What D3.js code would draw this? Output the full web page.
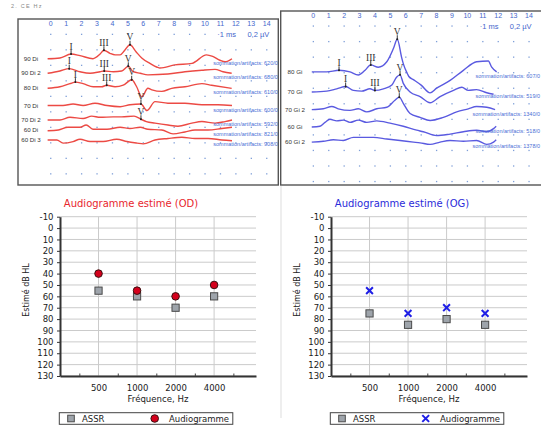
<!DOCTYPE html>
<html>
<head>
<meta charset="utf-8">
<script src="https://cdn.jsdelivr.net/npm/d3@7"></script>
<style>
  body { margin: 0; background: #fff; }
  svg { display: block; }
</style>
</head>
<body>
<script>
const width = 541;
const height = 428;

// ---- ABR panels: time ticks (ms) ----
const abrTicks = [0, 1, 2, 3, 4, 5, 6, 7, 8, 9, 10, 11, 12, 13, 14];

// left ear (red), amplitudes in µV, x in ms
const leftLabels = ["90 Di", "90 Di 2", "80 Di", "70 Di", "70 Di 2", "60 Di", "60 Di 3"];
const leftOffsets = [0.315, 0.503, 0.697, 0.919, 1.106, 1.235, 1.364];
const leftCounts = ["620/0", "680/0", "610/0", "600/0", "592/0", "821/0", "908/0"];
const leftWaves = [
  [[-0.2,0],[0.6,0.01],[1.32,0.06],[1.9,0.04],[2.74,0],[3.2,0.06],[3.45,0.11],[3.84,0.07],[4.17,0.05],[4.5,0.05],[4.8,0.11],[5.14,0.18],[5.53,0.09],[5.9,0.01],[6.43,-0.06],[6.9,-0.11],[7.08,-0.12],[8.05,-0.08],[9.16,-0.06],[10.1,0.05],[10.5,0.03],[10.97,-0.02],[11.3,-0.04],[11.75,0]],
  [[-0.2,0],[0.6,0.03],[1.2,0.06],[1.9,0.02],[2.55,0],[3.2,0.02],[3.47,0.03],[4.06,0.02],[4.6,0.03],[5.03,0.09],[5.35,0.02],[5.8,0],[6.3,-0.02],[7.6,-0.01],[8.7,0.02],[9.8,0.04],[10.65,0.05],[11.17,0.02],[11.73,0]],
  [[-0.2,0],[0.6,0.02],[1.25,0.06],[1.6,0.08],[2.1,0.06],[2.76,0.02],[3.3,0.02],[3.63,0.04],[4.17,0.02],[4.7,0.04],[5.25,0.11],[5.57,0.02],[5.9,-0.11],[6.3,0],[6.56,-0.02],[7.2,-0.04],[7.84,0],[8.7,0.02],[9.8,0.06],[10.43,0.04],[11.73,0]],
  [[-0.2,0],[0.8,0],[1.45,0.02],[2.1,0],[2.87,0.03],[3.65,0],[4.5,-0.015],[5.14,0.01],[5.85,0.02],[6.24,-0.065],[6.76,0.05],[7.6,0.03],[8.7,0.03],[9.8,0.01],[10.84,0.01],[11.75,0]],
  [[-0.2,0],[0.6,0],[1.25,0.035],[2.1,0.02],[2.66,0.05],[3.2,0.035],[4.04,0.04],[4.6,0.04],[5.4,0.05],[5.85,0.01],[6.2,-0.02],[6.76,-0.04],[7.6,-0.065],[8.25,-0.08],[9.15,-0.04],[9.8,-0.02],[10.65,-0.04],[11.3,-0.02],[11.75,0]],
  [[-0.2,-0.01],[0.5,0],[1.12,0.035],[1.9,0.035],[2.3,0.065],[2.74,0.01],[3.65,0.01],[4.5,0.035],[5.14,0.02],[5.8,0.035],[6.3,0.01],[7.2,0],[7.93,-0.05],[8.7,-0.025],[9.35,0],[10.2,0],[11.1,0.02],[11.75,0.035]],
  [[-0.2,0],[0.4,0],[0.8,-0.04],[1.45,-0.02],[1.9,0.01],[2.55,-0.02],[3.4,-0.02],[4.28,0.01],[4.94,-0.02],[5.6,-0.04],[6.0,-0.05],[6.76,0],[7.6,0.02],[8.5,0.035],[9.35,0.02],[10.2,0.02],[11.1,0],[11.75,-0.01]]
];
const leftPeaks = [[0,"I",1.32],[0,"III",3.45],[0,"V",5.14],[1,"I",1.2],[1,"III",3.47],[1,"V",5.03],
                   [2,"I",1.6],[2,"III",3.63],[2,"V",5.25],[3,"V",5.85],[4,"V",5.85]];

// right ear (blue)
const rightLabels = ["80 Gi", "70 Gi", "70 Gi 2", "60 Gi", "60 Gi 2"];
const rightOffsets = [0.59, 0.848, 1.075, 1.30, 1.493];
const rightCounts = ["607/0", "519/0", "1340/0", "518/0", "1378/0"];
const rightWaves = [
  [[-0.1,0],[0.87,0],[1.67,0.02],[2.38,0],[2.92,-0.04],[3.36,0.02],[3.73,0.09],[4.22,0.06],[4.77,0.13],[5.2,0.3],[5.45,0.42],[5.74,0.18],[5.85,0.1],[6.1,-0.02],[6.2,-0.06],[6.5,-0.1],[7.0,-0.17],[7.58,-0.27],[8.0,-0.21],[8.88,-0.11],[9.74,0.02],[10.6,0.13],[11.36,0.14],[11.58,0.06],[11.9,0]],
  [[-0.1,0],[0.87,0.01],[1.52,0.04],[2.1,0.07],[2.6,0.02],[3.14,0.01],[3.68,0.04],[4.0,0.02],[4.55,0.04],[5.1,0.09],[5.4,0.19],[5.63,0.22],[5.84,0.11],[6.28,0],[6.93,-0.06],[7.58,-0.14],[8.23,-0.06],[9.1,0.02],[9.64,0.06],[10.06,0.02],[10.6,0.03],[11.26,-0.01],[11.7,-0.03]],
  [[-0.1,0],[0.65,0.01],[1.2,0.04],[1.62,0.01],[2.38,-0.01],[2.92,0.01],[3.47,-0.03],[4.12,0.01],[4.77,0.03],[5.3,0.12],[5.58,0.16],[5.84,0.08],[6.28,-0.05],[6.93,-0.1],[7.58,-0.14],[8.44,-0.1],[9.31,-0.03],[10.06,0.01],[10.6,0.04],[11.26,0.03],[11.8,0]],
  [[-0.1,0],[0.43,0.01],[0.76,0.06],[1.08,0.1],[1.52,0.08],[1.95,0.09],[2.38,0.06],[2.92,0.09],[3.47,0.06],[4.12,0.08],[4.98,0.05],[5.84,0.01],[6.71,-0.04],[7.14,-0.06],[8.0,-0.11],[8.88,-0.09],[9.74,-0.06],[10.6,-0.04],[11.26,-0.06],[11.7,-0.02],[11.87,0.01]],
  [[-0.1,0],[0.65,0.01],[1.3,0.03],[1.95,0.02],[2.6,0.06],[3.25,0.06],[3.9,0.06],[4.77,0.04],[5.63,0.02],[6.5,0],[6.93,-0.01],[7.58,-0.03],[8.23,0],[8.88,0.02],[9.74,0.01],[10.6,0.02],[11.26,-0.03],[11.7,0],[11.87,0.03]]
];
const rightPeaks = [[0,"I",1.67],[0,"III",3.73],[0,"V",5.45],[1,"I",2.1],[1,"III",4.0],[1,"V",5.63],[2,"V",5.58]];

// ---- audiograms ----
const freqs = [500, 1000, 2000, 4000];
const minorFreqs = [354, 707, 1414, 2828, 5657];
const dbTicks = [-10, 0, 10, 20, 30, 40, 50, 60, 70, 80, 90, 100, 110, 120, 130];
const odAssr = [55, 60, 70, 60];
const odAudio = [40, 55, 60, 50];
const ogAssr = [75, 85, 80, 85];
const ogAudio = [55, 75, 70, 75];

const svg = d3.select("body").append("svg")
  .attr("width", width)
  .attr("height", height)
  .style("font-family", "'DejaVu Sans', sans-serif");

svg.append("rect").attr("width", width).attr("height", height).attr("fill", "#fff");

svg.append("text").attr("x", 11).attr("y", 8)
  .attr("font-size", 5.5).attr("fill", "#888")
  .attr("font-family", "'Liberation Sans', sans-serif")
  .attr("letter-spacing", 1.2)
  .text("2. CE Hz");

function drawAbr(p) {
  const g = svg.append("g").style("font-family", "'Liberation Sans', sans-serif");

  g.append("rect")
    .attr("x", p.box[0]).attr("y", p.box[1])
    .attr("width", p.box[2]).attr("height", p.box[3])
    .attr("fill", "#fff").attr("stroke", "#555").attr("stroke-width", 1.4);

  const x = d3.scaleLinear().domain([0, 14]).range(p.msRange);
  const y = d3.scaleLinear().domain([0, p.rows * 0.2]).range(p.uvRange);

  // dotted grid
  const dots = [];
  abrTicks.forEach(t => d3.range(p.rows + 1).forEach(r => dots.push([t, r * 0.2])));
  g.selectAll(null).data(dots).join("rect")
    .attr("x", d => x(d[0]) - 0.6).attr("y", d => y(d[1]) - 0.6)
    .attr("width", 1.3).attr("height", 1.3)
    .attr("fill", "#7f9fd8");

  g.selectAll(null).data(abrTicks).join("text")
    .attr("x", d => x(d)).attr("y", y(0) - 8.5)
    .attr("text-anchor", "middle")
    .attr("font-size", 7).attr("fill", "#4466cc")
    .text(d => d);

  g.append("rect").attr("x", x(10.75)).attr("y", y(0) - 5).attr("width", x(14.3) - x(10.75)).attr("height", 9).attr("fill", "#fff");
  g.append("text").attr("x", x(10.8)).attr("y", y(0) + 2.5)
    .attr("font-size", 7.5).attr("fill", "#4466cc").text("·1 ms");
  g.append("text").attr("x", x(12.75)).attr("y", y(0) + 2.5)
    .attr("font-size", 7.5).attr("fill", "#4466cc").text("0,2 µV");

  p.waves.forEach((w, i) => {
    const off = p.offsets[i];
    const line = d3.line()
      .x(d => x(d[0]))
      .y(d => y(off - d[1]))
      .curve(d3.curveMonotoneX);
    g.append("path").datum(w)
      .attr("fill", "none").attr("stroke", p.color)
      .attr("stroke-width", 1.4).attr("stroke-linejoin", "round")
      .attr("d", line);

    g.append("text")
      .attr("x", p.labelX).attr("y", y(off) + 2)
      .attr("text-anchor", "middle")
      .attr("font-size", 6.2).attr("fill", "#333")
      .text(p.labels[i]);

    g.append("text")
      .attr("x", x(14.72)).attr("y", y(off) + 6)
      .attr("text-anchor", "end")
      .attr("font-size", 5.5).attr("fill", "#4a6fd6")
      .text("sommation/artifacts: " + p.counts[i]);
  });

  p.peaks.forEach(([t, lab, ms]) => {
    const pt = p.waves[t].find(d => d[0] === ms);
    const px = x(pt[0]);
    const py = y(p.offsets[t] - pt[1]);
    g.append("line")
      .attr("x1", px).attr("x2", px).attr("y1", py - 4).attr("y2", py + 0.8)
      .attr("stroke", "#222").attr("stroke-width", 0.9);
    g.append("circle").attr("cx", px).attr("cy", py).attr("r", 1).attr("fill", "#222");
    g.append("text")
      .attr("x", px).attr("y", py - 4.3)
      .attr("text-anchor", "middle")
      .attr("font-family", "'Liberation Serif', serif")
      .attr("font-size", 9.5).attr("fill", "#333")
      .text(lab);
  });
}

drawAbr({
  box: [18, 19, 260.3, 166], msRange: [50.7, 266.7], uvRange: [34.3, 173.8], rows: 9,
  color: "#ec4a44", labelX: 31, waves: leftWaves, offsets: leftOffsets,
  labels: leftLabels, counts: leftCounts, peaks: leftPeaks
});
drawAbr({
  box: [280.7, 11, 264, 174], msRange: [313.3, 529], uvRange: [26, 181.5], rows: 10,
  color: "#5a5ae0", labelX: 295, waves: rightWaves, offsets: rightOffsets,
  labels: rightLabels, counts: rightCounts, peaks: rightPeaks
});

// faint separator below right panel
svg.append("line").attr("x1", 281).attr("x2", 281).attr("y1", 186).attr("y2", 418)
  .attr("stroke", "#ddd").attr("stroke-width", 1);

function drawAudio(p) {
  const g = svg.append("g");
  const x = d3.scaleLog().base(2).domain([250, 8500]).range([p.x0, p.x0 + 196]);
  const y = d3.scaleLinear().domain([-10, 130]).range([216.7, 376]);

  g.append("text").attr("x", p.x0 + 71).attr("y", 206.8)
    .attr("text-anchor", "middle").attr("font-size", 10)
    .attr("fill", p.titleColor).text(p.title);

  g.selectAll(null).data(dbTicks).join("line")
    .attr("x1", p.x0).attr("x2", p.x0 + 196)
    .attr("y1", d => y(d)).attr("y2", d => y(d))
    .attr("stroke", "#cbcbcb").attr("stroke-width", 1);
  g.selectAll(null).data(freqs).join("line")
    .attr("x1", d => x(d)).attr("x2", d => x(d))
    .attr("y1", y(-10)).attr("y2", y(130))
    .attr("stroke", "#cbcbcb").attr("stroke-width", 1);

  const yAxis = g.append("g").attr("transform", `translate(${p.x0},0)`)
    .call(d3.axisLeft(y).tickValues(dbTicks).tickSize(3).tickSizeOuter(0).tickPadding(3.5)
      .tickFormat(d => String(d)));
  yAxis.select(".domain").attr("stroke", "#333").attr("stroke-width", 2);
  yAxis.selectAll(".tick line").attr("stroke", "#333");
  yAxis.selectAll("text").attr("font-size", 8.5).attr("fill", "#1a1a1a")
    .attr("font-family", "'DejaVu Sans', sans-serif");

  const xAxis = g.append("g").attr("transform", `translate(0,${y(130)})`)
    .call(d3.axisBottom(x).tickValues(freqs).tickSize(0).tickSizeOuter(0).tickPadding(8.5)
      .tickFormat(d => String(d)));
  xAxis.select(".domain").attr("stroke", "#333").attr("stroke-width", 2);
  xAxis.selectAll("text").attr("font-size", 8.5).attr("fill", "#1a1a1a")
    .attr("font-family", "'DejaVu Sans', sans-serif");

  const minor = g.append("g").attr("transform", `translate(0,${y(130)})`)
    .call(d3.axisTop(x).tickValues(minorFreqs).tickSize(2.5).tickFormat(""));
  minor.select(".domain").remove();
  minor.selectAll(".tick line").attr("stroke", "#444");

  g.append("text").attr("x", p.x0 + 98).attr("y", 401.5)
    .attr("text-anchor", "middle").attr("font-size", 8.6).attr("fill", "#222")
    .text("Fréquence, Hz");
  g.append("text")
    .attr("transform", `translate(${p.x0 - 34},290) rotate(-90)`)
    .attr("text-anchor", "middle").attr("dominant-baseline", "middle")
    .attr("font-size", 8).attr("fill", "#222")
    .text("Estimé dB HL");

  // ASSR squares
  g.selectAll(null).data(p.assr).join("rect")
    .attr("x", (d, i) => x(freqs[i]) - 3.6).attr("y", d => y(d) - 3.6)
    .attr("width", 7.2).attr("height", 7.2)
    .attr("fill", "#9ea4ab").attr("stroke", "#4a4a4a").attr("stroke-width", 1);

  const drawAudioMark = (sel, cx, cy) => {
    if (p.mark === "circle") {
      sel.append("circle").attr("cx", cx).attr("cy", cy).attr("r", 3.8)
        .attr("fill", "#d4001c").attr("stroke", "#3a1010").attr("stroke-width", 1);
    } else {
      const s = 3.4;
      sel.append("path")
        .attr("d", `M${cx - s},${cy - s}L${cx + s},${cy + s}M${cx - s},${cy + s}L${cx + s},${cy - s}`)
        .attr("stroke", "#1f1fe6").attr("stroke-width", 2).attr("fill", "none");
    }
  };
  p.audio.forEach((d, i) => drawAudioMark(g, x(freqs[i]), y(d)));

  // legend
  const lg = g.append("g");
  lg.append("rect").attr("x", p.x0 - 0.7).attr("y", 412.7).attr("width", 173.5).attr("height", 11.6)
    .attr("fill", "#fff").attr("stroke", "#444").attr("stroke-width", 1);
  lg.append("rect").attr("x", p.x0 + 11 - 3.3).attr("y", 418.5 - 3.3).attr("width", 6.6).attr("height", 6.6)
    .attr("fill", "#9ea4ab").attr("stroke", "#4a4a4a").attr("stroke-width", 1);
  lg.append("text").attr("x", p.x0 + 22).attr("y", 421.6).attr("font-size", 8.5).attr("fill", "#222").text("ASSR");
  drawAudioMark(lg, p.x0 + 94.7, 418.5);
  lg.append("text").attr("x", p.x0 + 109).attr("y", 421.6).attr("font-size", 8.5).attr("fill", "#222").text("Audiogramme");
}

drawAudio({ x0: 60, title: "Audiogramme estimé (OD)", titleColor: "#e8262d", assr: odAssr, audio: odAudio, mark: "circle" });
drawAudio({ x0: 331, title: "Audiogramme estimé (OG)", titleColor: "#2b2bd9", assr: ogAssr, audio: ogAudio, mark: "x" });
</script>
</body>
</html>
